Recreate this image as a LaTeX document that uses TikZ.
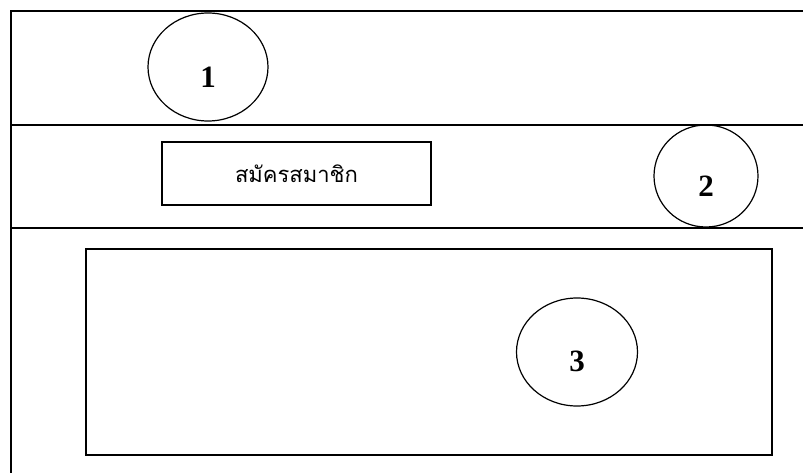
\documentclass[tikz,border=0pt]{standalone}
\usepackage{fontspec}
\setmainfont{Liberation Serif}
\newfontfamily\thaifont[Script=Thai]{Loma}
\usetikzlibrary{shapes,positioning}

\tikzset{
    frameline/.style={line width=2pt, black},
    menubox/.style={draw, line width=1.6pt, minimum width=269pt, minimum height=63pt, inner sep=0pt},
    contentbox/.style={draw, line width=1.6pt, minimum width=686pt, minimum height=206pt, inner sep=0pt},
    numcircle/.style={draw, ellipse, line width=1.2pt, inner sep=0pt},
    numtext/.style={yshift=-10pt, inner sep=0pt, font=\fontsize{31}{31}\selectfont\bfseries}
}

\begin{document}
\begin{tikzpicture}[x=1pt, y=-1pt]
            \def\W{803}
            \def\H{473}
            \def\L{11}
            \def\fstY{125}
            \def\sndY{228}

            \useasboundingbox (0,0) rectangle (\W,\H);
            \fill[white] (0,0) rectangle (\W,\H);

            % frame
            \draw[frameline] (\L,\H) -- (\L,11) -- (\W,11);
            \draw[frameline] (\L,\fstY) -- (\W,\fstY);
            \draw[frameline] (\L,\sndY) -- (\W,\sndY);

            % rows
            \node[menubox] (signup) at (296.5,173.5) {\thaifont\fontsize{22}{22}\selectfont สมัครสมาชิก};
            \node[contentbox] (content) at (429,352) {};

            \node[numcircle, minimum width=120pt, minimum height=108pt, label={[numtext]center:1}] (one) at (208,67) {};
            \node[numcircle, minimum width=104pt, minimum height=102pt, label={[numtext]center:2}] (two) at (706,176) {};
            \node[numcircle, minimum width=121pt, minimum height=108pt, label={[numtext, yshift=1pt]center:3}] (three) at (577,352) {};
        \end{tikzpicture}
\end{document}
